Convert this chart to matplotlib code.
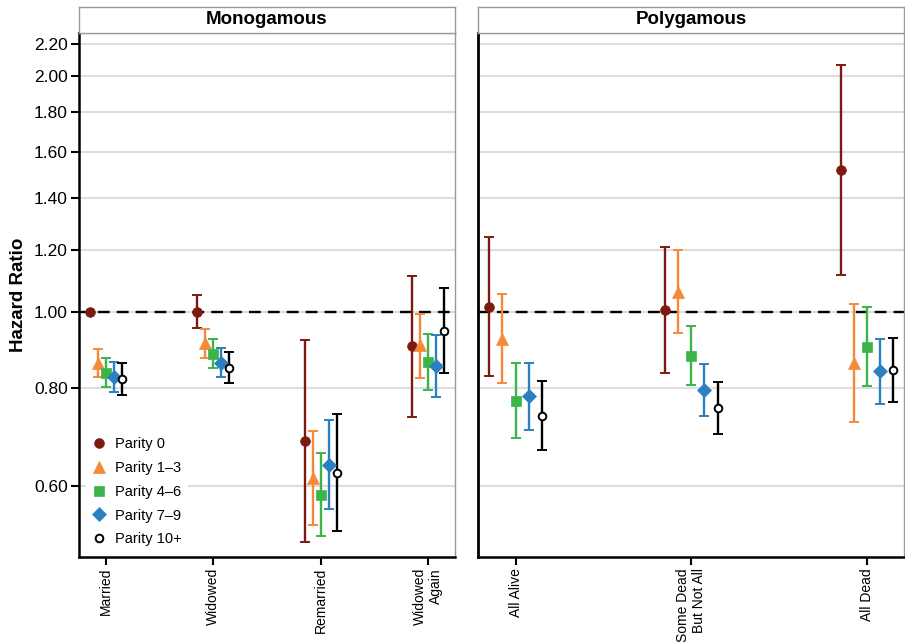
import numpy as np
import matplotlib.pyplot as plt
from matplotlib.lines import Line2D
from matplotlib.ticker import FixedLocator, NullLocator, FixedFormatter

plt.rcParams['font.family'] = ['Liberation Sans', 'DejaVu Sans']

# Categories
mono_cats = ["Married", "Widowed", "Remarried", "Widowed\nAgain"]
poly_cats = ["All Alive", "Some Dead\nBut Not All", "All Dead"]

series = ["Parity 0", "Parity 1\u20133", "Parity 4\u20136", "Parity 7\u20139", "Parity 10+"]
colors = ["#7d1a10", "#f5893a", "#3bb54a", "#2a80c2", "#000000"]
markers = ["o", "^", "s", "D", "o"]
msizes = [7, 8, 6.5, 7, 5.5]

# Hazard ratios, rows = parity group, columns = category
mono_hr = [[1.00, 1.00, 0.684, 0.904],
           [0.860, 0.914, 0.614, 0.908],
           [0.837, 0.884, 0.584, 0.863],
           [0.827, 0.861, 0.638, 0.853],
           [0.822, 0.849, 0.623, 0.946]]
mono_lo = [[np.nan, 0.954, 0.508, 0.735],
           [0.825, 0.874, 0.534, 0.823],
           [0.803, 0.848, 0.518, 0.796],
           [0.791, 0.825, 0.560, 0.779],
           [0.783, 0.811, 0.525, 0.836]]
mono_hi = [[np.nan, 1.051, 0.921, 1.113],
           [0.896, 0.950, 0.705, 0.994],
           [0.873, 0.923, 0.660, 0.936],
           [0.864, 0.900, 0.727, 0.935],
           [0.862, 0.890, 0.741, 1.072]]

poly_hr = [[1.016, 1.006, 1.518],
           [0.923, 1.062, 0.860],
           [0.770, 0.879, 0.903],
           [0.780, 0.795, 0.841],
           [0.737, 0.753, 0.844]]
poly_lo = [[0.828, 0.836, 1.115],
           [0.812, 0.940, 0.724],
           [0.690, 0.807, 0.804],
           [0.706, 0.737, 0.763],
           [0.666, 0.698, 0.768]]
poly_hi = [[1.246, 1.211, 2.070],
           [1.053, 1.199, 1.024],
           [0.862, 0.960, 1.016],
           [0.861, 0.859, 0.925],
           [0.816, 0.813, 0.926]]

yticks = [0.6, 0.8, 1.0, 1.2, 1.4, 1.6, 1.8, 2.0, 2.2]

fig = plt.figure(figsize=(9.05, 6.44), dpi=100)

panels = [
    ("Monogamous", mono_cats, mono_hr, mono_lo, mono_hi, [0.0873, 0.1351, 0.4155, 0.8137], (0.75, 4.25)),
    ("Polygamous", poly_cats, poly_hr, poly_lo, poly_hi, [0.5282, 0.1351, 0.4706, 0.8137], (0.786, 3.21)),
]

dodge = 0.075
axes = []
for pi, (title, cats, hr, lo, hi, rect, xlim) in enumerate(panels):
    ax = fig.add_axes(rect)
    axes.append(ax)
    ax.set_yscale("log")
    ax.set_ylim(0.4865, 2.272)
    ax.set_xlim(*xlim)
    x = np.arange(1, len(cats) + 1)
    for yt in yticks:
        ax.axhline(yt, color="#dddddd", lw=1.5, zorder=0)
    ax.axhline(1.0, color="black", lw=1.7, ls=(0, (5, 3)), zorder=1.5)
    for i in range(len(series)):
        h = np.array(hr[i])
        l = np.array(lo[i])
        u = np.array(hi[i])
        xs = x + (i - 2) * dodge
        ok = ~np.isnan(l)
        ax.errorbar(xs[ok], h[ok], yerr=[h[ok] - l[ok], u[ok] - h[ok]], fmt="none",
                    ecolor=colors[i], elinewidth=1.7, capsize=3.3, capthick=1.4, zorder=3)
        face = "white" if i == 4 else colors[i]
        ax.plot(xs, h, ls="none", marker=markers[i], ms=msizes[i], mfc=face,
                mec=colors[i], mew=1.4 if i == 4 else 0.5, zorder=4)
    ax.set_xticks(x)
    ax.set_xticklabels(cats, rotation=90, fontsize=10, ha="center", va="top",
                       multialignment="right")
    ax.yaxis.set_major_locator(FixedLocator(yticks))
    ax.yaxis.set_minor_locator(NullLocator())
    ax.tick_params(axis="x", length=6, width=1.5, pad=2)
    for side in ["left", "bottom"]:
        ax.spines[side].set_linewidth(1.8)
        ax.spines[side].set_color("black")
    ax.spines["right"].set_color("#999999")
    ax.spines["right"].set_linewidth(1.0)
    ax.spines["top"].set_color("#333333")
    ax.spines["top"].set_linewidth(1.5)
    if pi == 0:
        ax.yaxis.set_major_formatter(FixedFormatter(["%.2f" % v for v in yticks]))
        ax.tick_params(axis="y", length=6, width=1.5, pad=2, labelsize=12.5)
        ax.set_ylabel("Hazard Ratio", fontsize=13.5, fontweight="bold", labelpad=5)
    else:
        ax.tick_params(axis="y", length=0, labelleft=False)
        ax.spines["left"].set_linewidth(2.0)

    # strip header
    sax = fig.add_axes([rect[0], 1 - 33 / 644, rect[2], 26 / 644])
    sax.set_xticks([])
    sax.set_yticks([])
    for s in sax.spines.values():
        s.set_color("#999999")
        s.set_linewidth(1.0)
    sax.text(0.5, 0.5, title, ha="center", va="center", fontsize=13.5,
             fontweight="bold", transform=sax.transAxes)

handles = []
for i in range(len(series)):
    face = "white" if i == 4 else colors[i]
    handles.append(Line2D([], [], ls="none", marker=markers[i], ms=msizes[i], mfc=face,
                          mec=colors[i], mew=1.4 if i == 4 else 0.5))
leg = axes[0].legend(handles, series, loc="lower left", bbox_to_anchor=(0.0, -0.005),
                     fontsize=10.5, frameon=True, facecolor="white", edgecolor="none",
                     framealpha=1, handlelength=1.0, handletextpad=0.6,
                     labelspacing=0.68, borderpad=0.4, fancybox=False)
leg.set_zorder(5)

fig.savefig("out.png", dpi=100)
